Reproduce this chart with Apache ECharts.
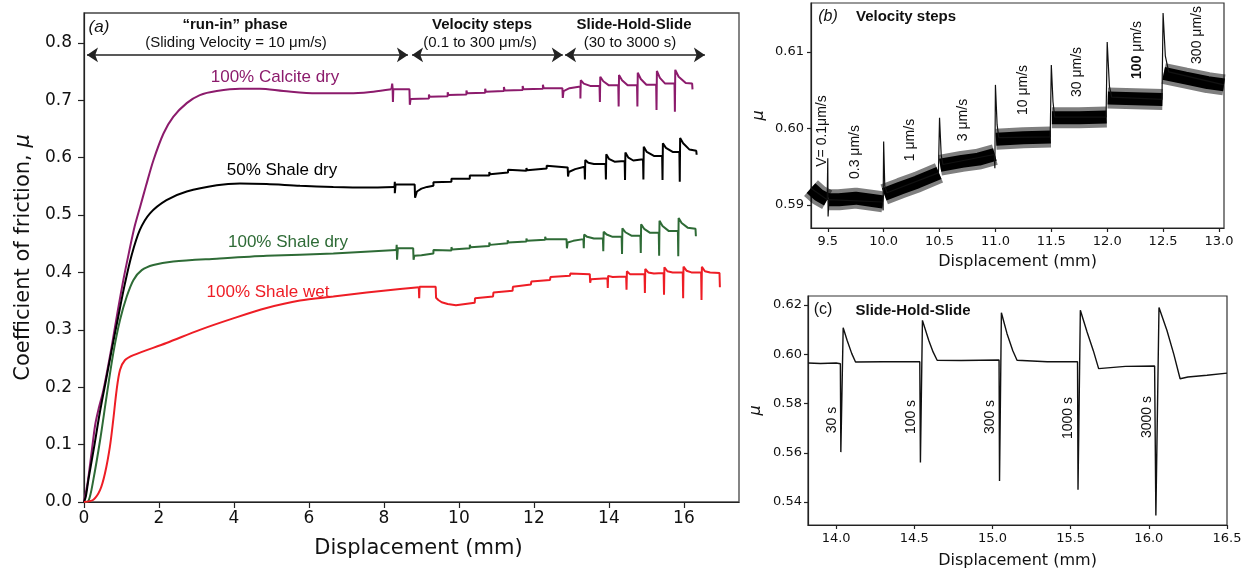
<!DOCTYPE html>
<html><head><meta charset="utf-8">
<script src="https://cdn.jsdelivr.net/npm/echarts@6/dist/echarts.min.js"></script>
<style>html,body{margin:0;padding:0;background:#fff}#c{width:1250px;height:572px}</style>
</head><body><div id="c"></div>
<script>
// ---------------- Panel (a) data ----------------
const xTicksA = [0, 2, 4, 6, 8, 10, 12, 14, 16];
const yTicksA = [0, 0.1, 0.2, 0.3, 0.4, 0.5, 0.6, 0.7, 0.8];
const seriesNamesA = ['100% Calcite dry', '50% Shale dry', '100% Shale dry', '100% Shale wet'];
const phaseTitles = ['\u201crun-in\u201d phase', 'Velocity steps', 'Slide-Hold-Slide'];
const phaseSubtitles = ['(Sliding Velocity = 10 \u03bcm/s)', '(0.1 to 300 \u03bcm/s)', '(30 to 3000 s)'];
const phaseRanges = [[0.08, 8.64], [8.75, 12.77], [12.83, 16.56]];
const phaseArrowY = 0.779;

// run-in parts (smooth) and test parts (velocity steps + slide-hold-slide)
const calciteRunIn = [[0,0],[0.1,0.035],[0.2,0.085],[0.3,0.135],[0.4,0.165],[0.5,0.19],[0.6,0.222],[0.75,0.275],[0.9,0.333],[1.05,0.387],[1.2,0.435],[1.35,0.48],[1.5,0.515],[1.65,0.55],[1.85,0.595],[2.12,0.642],[2.38,0.671],[2.74,0.695],[3.09,0.709],[3.54,0.716],[4.16,0.72],[4.69,0.72],[5.32,0.716],[6.2,0.712],[7.09,0.712],[7.72,0.715],[8.2,0.719]];
const calciteTests = [[8.2,0.719],[8.22,0.719],[8.22,0.729],[8.23,0.722],[8.24,0.697],[8.25,0.719],[8.68,0.719],[8.69,0.692],[8.71,0.702],[9.2,0.703],[9.2,0.71],[9.22,0.706],[9.7,0.707],[9.7,0.714],[9.72,0.709],[10.2,0.71],[10.2,0.717],[10.22,0.712],[10.7,0.713],[10.7,0.72],[10.72,0.715],[11.2,0.716],[11.2,0.723],[11.22,0.717],[11.7,0.718],[11.7,0.725],[11.72,0.719],[12.24,0.72],[12.24,0.727],[12.26,0.721],[12.76,0.721],[12.77,0.704],[12.79,0.716],[12.95,0.721],[13.24,0.724],
[13.24,0.703],[13.25,0.735],[13.33,0.729],[13.5,0.725],[13.75,0.725],[13.76,0.697],[13.77,0.741],[13.85,0.733],[14.0,0.726],[14.25,0.726],[14.26,0.689],[14.27,0.744],[14.35,0.735],[14.5,0.726],[14.75,0.726],[14.76,0.689],[14.77,0.748],[14.85,0.737],[15.0,0.727],[15.26,0.727],[15.27,0.683],[15.28,0.751],[15.36,0.739],[15.5,0.729],[15.75,0.729],[15.76,0.68],[15.77,0.753],[15.86,0.741],[16.05,0.73],[16.22,0.729],[16.23,0.719]];

const shale50RunIn = [[0,0],[0.05,0.01],[0.12,0.04],[0.27,0.096],[0.42,0.155],[0.58,0.21],[0.74,0.265],[0.92,0.325],[1.09,0.38],[1.27,0.43],[1.49,0.474],[1.76,0.503],[2.2,0.526],[2.74,0.541],[3.54,0.552],[4.16,0.555],[4.87,0.554],[5.76,0.551],[6.65,0.549],[7.54,0.548],[8.28,0.549]];
const shale50Tests = [[8.28,0.549],[8.29,0.558],[8.29,0.538],[8.31,0.553],[8.82,0.553],[8.83,0.53],[8.88,0.541],[9.0,0.546],[9.15,0.549],[9.32,0.551],[9.32,0.557],[9.34,0.555],[9.8,0.558],[9.8,0.563],[9.82,0.561],[10.29,0.563],[10.29,0.569],[10.31,0.566],[10.81,0.569],[10.81,0.575],[10.83,0.571],[11.31,0.574],[11.31,0.579],[11.33,0.576],[11.8,0.577],[11.8,0.582],[11.82,0.578],[12.34,0.581],[12.34,0.586],[12.36,0.583],[12.9,0.583],[12.91,0.567],[12.93,0.575],[13.1,0.58],[13.35,0.584],
[13.36,0.562],[13.37,0.596],[13.45,0.591],[13.6,0.589],[13.91,0.589],[13.92,0.562],[13.93,0.606],[14.0,0.598],[14.15,0.593],[14.42,0.594],[14.43,0.561],[14.44,0.609],[14.52,0.6],[14.65,0.595],[14.91,0.597],[14.92,0.562],[14.93,0.619],[15.01,0.61],[15.2,0.603],[15.42,0.603],[15.43,0.561],[15.44,0.625],[15.52,0.617],[15.7,0.61],[15.88,0.61],[15.89,0.558],[15.9,0.634],[15.98,0.625],[16.15,0.614],[16.33,0.612],[16.34,0.605]];

const shale100DryRunIn = [[0,0],[0.12,0.002],[0.25,0.039],[0.43,0.108],[0.6,0.183],[0.78,0.259],[0.96,0.317],[1.14,0.358],[1.32,0.387],[1.54,0.404],[1.85,0.413],[2.38,0.419],[3.54,0.424],[4.87,0.429],[6.65,0.433],[8.33,0.439]];
const shale100DryTests = [[8.33,0.439],[8.34,0.448],[8.35,0.422],[8.37,0.442],[8.78,0.442],[8.79,0.422],[8.81,0.429],[9.0,0.43],[9.32,0.433],[9.32,0.439],[9.34,0.436],[9.8,0.438],[9.8,0.444],[9.82,0.44],[10.29,0.442],[10.29,0.448],[10.31,0.444],[10.81,0.446],[10.81,0.452],[10.83,0.448],[11.3,0.451],[11.3,0.456],[11.32,0.452],[11.8,0.454],[11.8,0.459],[11.82,0.455],[12.3,0.457],[12.3,0.462],[12.32,0.458],[12.87,0.458],[12.88,0.442],[12.9,0.452],[13.05,0.455],[13.32,0.458],
[13.33,0.442],[13.34,0.466],[13.42,0.462],[13.6,0.459],[13.84,0.459],[13.85,0.437],[13.86,0.471],[13.94,0.466],[14.1,0.462],[14.34,0.462],[14.35,0.432],[14.36,0.477],[14.44,0.47],[14.6,0.464],[14.84,0.464],[14.85,0.434],[14.86,0.484],[14.94,0.476],[15.1,0.469],[15.33,0.469],[15.34,0.429],[15.35,0.49],[15.43,0.481],[15.6,0.472],[15.84,0.472],[15.85,0.428],[15.86,0.495],[15.94,0.486],[16.1,0.478],[16.31,0.476],[16.32,0.463]];

const shale100WetRunIn = [[0,0],[0.25,0.004],[0.43,0.021],[0.56,0.05],[0.69,0.096],[0.78,0.143],[0.87,0.195],[0.96,0.23],[1.09,0.247],[1.32,0.256],[2.2,0.277],[3.09,0.3],[3.98,0.32],[4.87,0.338],[5.76,0.351],[6.65,0.358],[7.54,0.365],[8.43,0.371],[8.93,0.374]];
const shale100WetTests = [[8.93,0.374],[8.94,0.355],[8.95,0.375],[9.38,0.375],[9.39,0.356],[9.45,0.352],[9.54,0.348],[9.7,0.345],[9.92,0.343],[9.93,0.346],[10.42,0.347],[10.43,0.355],[10.91,0.358],[10.92,0.365],[11.43,0.368],[11.44,0.375],[11.92,0.379],[11.93,0.384],[12.43,0.387],[12.44,0.392],[12.96,0.394],[12.97,0.398],[13.49,0.397],[13.5,0.382],[13.52,0.388],[13.96,0.39],
[13.97,0.373],[13.98,0.394],[14.1,0.392],[14.46,0.393],[14.47,0.37],[14.48,0.402],[14.56,0.397],[14.95,0.397],[14.96,0.364],[14.97,0.406],[15.05,0.4],[15.2,0.398],[15.46,0.399],[15.47,0.361],[15.48,0.409],[15.56,0.402],[15.7,0.4],[15.97,0.4],[15.98,0.355],[15.99,0.41],[16.07,0.403],[16.2,0.4],[16.46,0.4],[16.47,0.352],[16.48,0.41],[16.56,0.402],[16.7,0.4],[16.95,0.399],[16.96,0.374]];

// ---------------- Panel (b) data ----------------
const xTicksB = [9.5, 10.0, 10.5, 11.0, 11.5, 12.0, 12.5, 13.0];
const yTicksB = [0.59, 0.60, 0.61];
const velocityLabels = ['V= 0.1\u03bcm/s', '0.3 \u03bcm/s', '1 \u03bcm/s', '3 \u03bcm/s', '10 \u03bcm/s', '30 \u03bcm/s', '{b|100} \u03bcm/s', '300 \u03bcm/s'];
const velocityBand = [
  [[9.35,0.5922],[9.42,0.5913],[9.495,0.5907]],
  [[9.505,0.5907],[9.6,0.5907],[9.75,0.5909],[9.9,0.5906],[9.995,0.5904]],
  [[10.005,0.5914],[10.15,0.5922],[10.3,0.593],[10.495,0.5942]],
  [[10.505,0.5952],[10.7,0.5957],[10.85,0.596],[10.995,0.5966]],
  [[11.005,0.5986],[11.25,0.5988],[11.495,0.5989]],
  [[11.505,0.6014],[11.75,0.6014],[11.995,0.6015]],
  [[12.005,0.604],[12.25,0.6039],[12.495,0.6038]],
  [[12.505,0.6072],[12.7,0.6066],[12.9,0.606],[13.045,0.6057]]
];
const velocityTrace = [[9.35,0.5922],[9.495,0.5907],[9.5,0.5961],[9.503,0.5885],[9.51,0.5907],[9.99,0.5904],[9.995,0.5893],[10.0,0.5983],[10.01,0.5925],[10.03,0.5916],[10.49,0.5942],[10.5,0.6014],[10.515,0.5965],[10.53,0.5953],[10.99,0.5966],[10.995,0.5948],[11.0,0.6057],[11.015,0.6005],[11.03,0.5988],[11.49,0.5989],[11.5,0.6083],[11.515,0.6035],[11.53,0.6015],[11.99,0.6015],[12.0,0.6113],[12.02,0.6055],[12.04,0.6041],[12.49,0.6038],[12.5,0.6151],[12.52,0.6095],[12.55,0.6074],[13.045,0.6057]];

// ---------------- Panel (c) data ----------------
const xTicksC = [14.0, 14.5, 15.0, 15.5, 16.0, 16.5];
const yTicksC = [0.54, 0.56, 0.58, 0.60, 0.62];
const holdLabels = ['30 s', '100 s', '300 s', '1000 s', '3000 s'];
const shsTrace = [[13.82,0.5965],[13.9,0.5963],[14.0,0.5965],[14.027,0.5962],[14.03,0.5603],[14.045,0.6108],[14.07,0.6057],[14.1,0.6003],[14.124,0.5969],[14.3,0.597],[14.535,0.597],[14.539,0.5561],[14.552,0.6138],[14.592,0.6057],[14.62,0.601],[14.646,0.5976],[14.8,0.5975],[15.042,0.5977],[15.045,0.5486],[15.057,0.6169],[15.093,0.6084],[15.13,0.6015],[15.157,0.5976],[15.35,0.597],[15.544,0.597],[15.547,0.545],[15.562,0.6179],[15.605,0.6091],[15.645,0.6015],[15.679,0.5942],[15.85,0.5951],[16.037,0.5953],[16.045,0.5346],[16.065,0.619],[16.116,0.6097],[16.16,0.6],[16.2,0.5901],[16.25,0.5908],[16.372,0.5915],[16.5,0.5924]];

// ---------------- Chart ----------------
const DV = '"DejaVu Sans", sans-serif';
const AR = '"Liberation Sans", Arial, sans-serif';
const colorsA = ['#8c1b6c', '#000000', '#2e6b36', '#ee1d25'];

function mkAxis(gridIndex, min, max, ticks, digits, fontSize, tickLen, margin, extra) {
  return Object.assign({
    type: 'value', gridIndex, min, max,
    axisLine: { show: true, onZero: false, lineStyle: { color: '#222', width: 1.2 } },
    axisTick: { show: true, inside: false, length: tickLen, customValues: ticks, lineStyle: { color: '#222', width: 1.2 } },
    axisLabel: { show: true, customValues: ticks, formatter: v => v.toFixed(digits), fontFamily: DV, fontSize, color: '#111', margin },
    splitLine: { show: false }
  }, extra);
}

const runIns = [calciteRunIn, shale50RunIn, shale100DryRunIn, shale100WetRunIn];
const tests = [calciteTests, shale50Tests, shale100DryTests, shale100WetTests];
const seriesA = [];
runIns.forEach((d, i) => {
  seriesA.push({ type: 'line', name: seriesNamesA[i], xAxisIndex: 0, yAxisIndex: 0, data: d,
    showSymbol: false, smooth: 0.3, lineStyle: { color: colorsA[i], width: 2 }, z: 3 + i, silent: true });
  seriesA.push({ type: 'line', name: seriesNamesA[i], xAxisIndex: 0, yAxisIndex: 0, data: tests[i],
    showSymbol: false, smooth: false, lineStyle: { color: colorsA[i], width: 2 }, z: 3 + i, silent: true });
});
seriesA[0].markLine = {
  silent: true, animation: false, symbol: ['arrow', 'arrow'], symbolSize: 11,
  lineStyle: { color: '#222', width: 1.5, type: 'solid' }, label: { show: false },
  data: phaseRanges.map(r => [{ coord: [r[0], phaseArrowY] }, { coord: [r[1], phaseArrowY] }])
};

const bandSeries = [];
velocityBand.forEach(seg => {
  bandSeries.push({ type: 'line', xAxisIndex: 1, yAxisIndex: 1, data: seg, showSymbol: false, silent: true,
    lineStyle: { color: 'rgba(0,0,0,0.5)', width: 21, cap: 'butt' }, z: 2 });
  bandSeries.push({ type: 'line', xAxisIndex: 1, yAxisIndex: 1, data: seg, showSymbol: false, silent: true,
    lineStyle: { color: '#000', width: 13, cap: 'butt' }, z: 3 });
});

const option = {
  animation: false,
  backgroundColor: '#fff',
  grid: [
    { left: 84, top: 13, width: 655, height: 489, show: true, borderColor: '#444', borderWidth: 1.3, outerBoundsMode: 'none' },
    { left: 811, top: 3, width: 413, height: 225, show: true, borderColor: '#333', borderWidth: 1.2, outerBoundsMode: 'none' },
    { left: 808, top: 296, width: 419, height: 229, show: true, borderColor: '#333', borderWidth: 1.2, outerBoundsMode: 'none' }
  ],
  xAxis: [
    mkAxis(0, 0, 17.47, xTicksA, 0, 17, 6, 8, { name: 'Displacement (mm)', nameLocation: 'middle', nameGap: 36, nameTextStyle: { fontFamily: DV, fontSize: 21, color: '#111', padding: [0, 0, 0, 14] } }),
    mkAxis(1, 9.35, 13.045, xTicksB, 1, 13, 4, 7, { name: 'Displacement (mm)', nameLocation: 'middle', nameGap: 26, nameTextStyle: { fontFamily: DV, fontSize: 16, color: '#111' } }),
    mkAxis(2, 13.82, 16.5, xTicksC, 1, 13, 4, 7, { name: 'Displacement (mm)', nameLocation: 'middle', nameGap: 28, nameTextStyle: { fontFamily: DV, fontSize: 16, color: '#111' } })
  ],
  yAxis: [
    mkAxis(0, 0, 0.852, yTicksA, 1, 17, 6, 12, { name: 'Coefficient of friction, {i|\u03bc}', nameLocation: 'middle', nameGap: 50, nameRotate: 90,
      nameTextStyle: { fontFamily: DV, fontSize: 21, color: '#111', rich: { i: { fontFamily: DV, fontSize: 21, fontStyle: 'italic', color: '#111' } } } }),
    mkAxis(1, 0.587, 0.6164, yTicksB, 2, 13, 4, 7, { name: '\u03bc', nameLocation: 'middle', nameGap: 44, nameRotate: 90, nameTextStyle: { fontFamily: DV, fontSize: 16, fontStyle: 'italic', color: '#111' } }),
    mkAxis(2, 0.5307, 0.6237, yTicksC, 2, 13, 4, 6, { name: '\u03bc', nameLocation: 'middle', nameGap: 44, nameRotate: 90, nameTextStyle: { fontFamily: DV, fontSize: 16, fontStyle: 'italic', color: '#111' } })
  ],
  series: seriesA.concat(bandSeries, [
    { type: 'line', xAxisIndex: 1, yAxisIndex: 1, data: velocityTrace, showSymbol: false, silent: true, lineStyle: { color: '#111', width: 1.2 }, z: 4 },
    { type: 'line', xAxisIndex: 2, yAxisIndex: 2, data: shsTrace, showSymbol: false, silent: true, lineStyle: { color: '#111', width: 1.4 }, z: 4 }
  ]),
  graphic: []
};

const G = option.graphic;
function txt(x, y, text, font, fill, rot, rich) {
  const e = { type: 'text', x, y, silent: true, z: 100, style: { text, font, fill: fill || '#111', align: 'center', verticalAlign: 'middle' } };
  if (rot) e.rotation = rot;
  if (rich) e.style.rich = rich;
  G.push(e);
}
// panel (a) annotations
txt(99, 27, '(a)', 'italic 17px ' + AR);
const phaseCentersX = [235, 482, 634];
const subCentersX = [236, 480, 630];
phaseTitles.forEach((t, i) => txt(phaseCentersX[i], 25, t, 'bold 15px ' + AR));
phaseSubtitles.forEach((t, i) => txt(subCentersX[i], 43, t, '15px ' + AR));
const seriesLabelPos = [[275, 77], [282, 170], [288, 242], [268, 292]];
seriesNamesA.forEach((t, i) => txt(seriesLabelPos[i][0], seriesLabelPos[i][1], t, '17px ' + AR, colorsA[i]));
// panel (b)
txt(828, 17, '(b)', 'italic 16px ' + AR);
txt(906, 17, 'Velocity steps', 'bold 15px ' + AR);
const velLabelPos = [[822, 131], [855, 152], [910, 140], [963, 120], [1023, 90], [1077, 72], [1137, 50], [1197, 35]];
velocityLabels.forEach((t, i) => txt(velLabelPos[i][0], velLabelPos[i][1], t, '14px ' + AR, '#111', Math.PI / 2,
  { b: { font: 'bold 14px ' + AR, fill: '#111' } }));
// panel (c)
txt(823, 310, '(c)', '16px ' + AR);
txt(913, 311, 'Slide-Hold-Slide', 'bold 15px ' + AR);
const holdLabelPos = [[832, 420], [911, 417], [990, 417], [1068, 418], [1147, 417]];
holdLabels.forEach((t, i) => txt(holdLabelPos[i][0], holdLabelPos[i][1], t, '14px ' + AR, '#111', Math.PI / 2));

const chart = echarts.init(document.getElementById('c'), null, { renderer: 'canvas' });
chart.setOption(option);
</script>
</body></html>
